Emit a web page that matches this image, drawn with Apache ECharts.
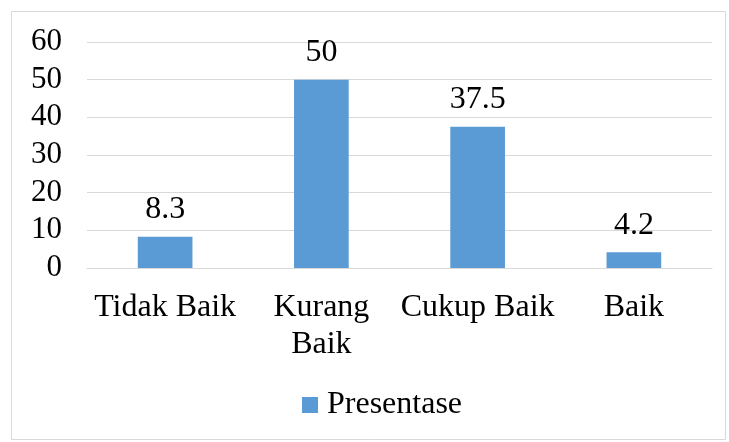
<!DOCTYPE html>
<html><head><meta charset="utf-8">
<script src="https://cdn.jsdelivr.net/npm/echarts@6/dist/echarts.min.js"></script>
<style>html,body{margin:0;padding:0;background:#fff}#c{width:729px;height:442px}</style>
</head><body><div id="c"></div>
<script>
var categories = ['Tidak Baik', 'Kurang\nBaik', 'Cukup Baik', 'Baik'];
var values = [8.3, 50, 37.5, 4.2];
var seriesName = 'Presentase';
var font = '"Liberation Serif", "Times New Roman", serif';
var chart = echarts.init(document.getElementById('c'));
chart.setOption({
  animation: false,
  backgroundColor: '#fff',
  graphic: [{type: 'rect', shape: {x: 11.5, y: 11.5, width: 714, height: 428}, style: {fill: 'none', stroke: '#d9d9d9', lineWidth: 1}}],
  grid: {left: 87, right: 17, top: 42, bottom: 174, containLabel: false},
  xAxis: {
    type: 'category', data: categories,
    axisLine: {lineStyle: {color: '#d9d9d9'}}, axisTick: {show: false},
    axisLabel: {color: '#000', fontFamily: font, fontSize: 32, margin: 21, lineHeight: 37, interval: 0}
  },
  yAxis: {
    type: 'value', min: 0, max: 60, interval: 10,
    axisLine: {show: false}, axisTick: {show: false},
    splitLine: {lineStyle: {color: '#d9d9d9', width: 1}},
    axisLabel: {color: '#000', fontFamily: font, fontSize: 31, margin: 25}
  },
  legend: {
    bottom: 16, left: 297, itemWidth: 16, itemHeight: 16, itemGap: 10,
    icon: 'rect',
    textStyle: {color: '#000', fontFamily: font, fontSize: 32, padding: [0, 0, 0, 4]}
  },
  series: [{
    name: seriesName, type: 'bar', data: values, barWidth: '35%',
    itemStyle: {color: '#5b9bd5'},
    label: {show: true, position: 'top', distance: 11, color: '#000', fontFamily: font, fontSize: 32}
  }]
});
</script></body></html>
